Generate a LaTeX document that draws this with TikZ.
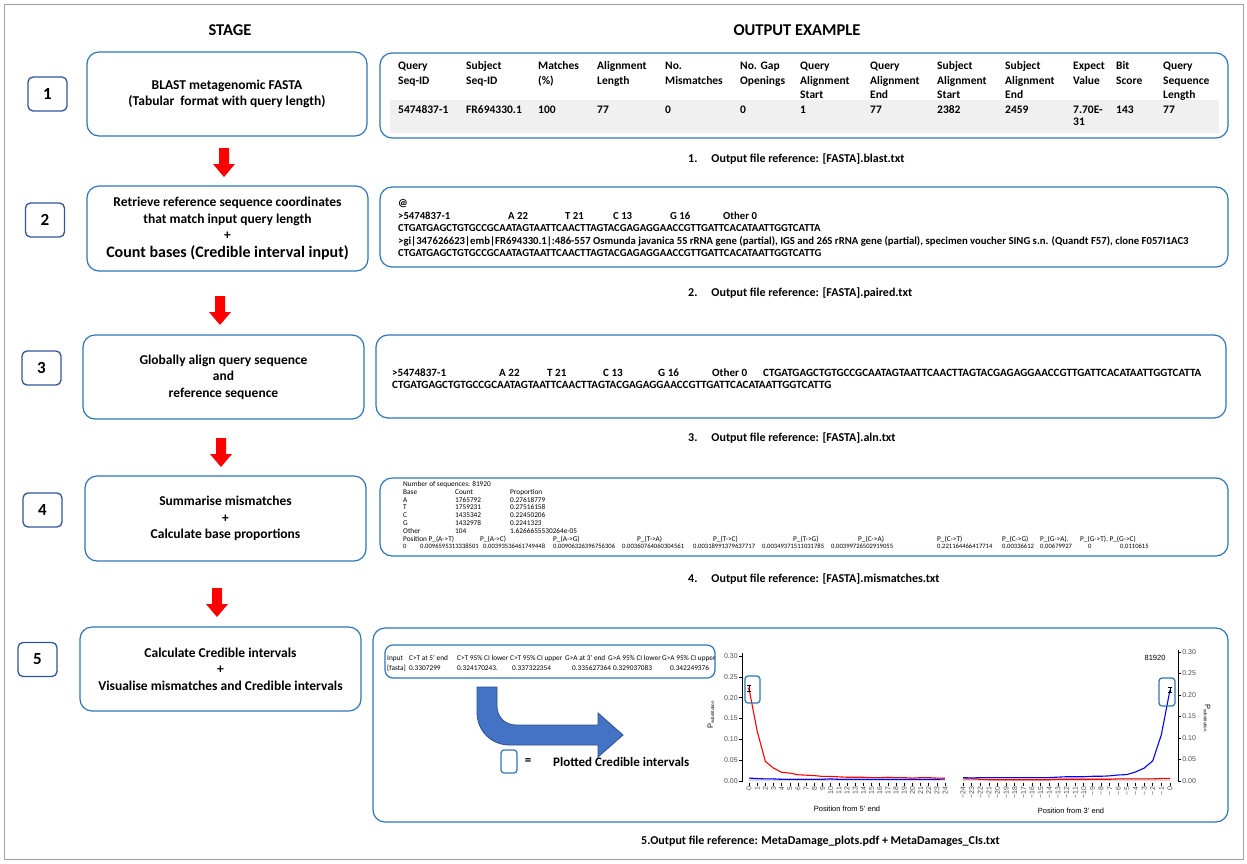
\documentclass[tikz,border=0pt]{standalone}
\usepackage{fontspec}
\setmainfont{Carlito}
\newfontfamily\plotfont{Liberation Sans}
\definecolor{boxblue}{HTML}{2E75B6}
\definecolor{numblue}{HTML}{2F5597}
\definecolor{arrowred}{HTML}{FF0000}
\definecolor{bigblue}{HTML}{4472C4}
\definecolor{bigblueedge}{HTML}{2F528F}
\definecolor{rowgray}{HTML}{F0F0F0}
\definecolor{framegray}{HTML}{A0A0A0}
\definecolor{ticktext}{HTML}{4D4D4D}
\newcommand{\fs}[2]{\fontsize{#1}{#2}\selectfont}
\newcommand{\cells}[1]{\begin{tabular}[t]{@{}l@{}}#1\end{tabular}}
\newcommand{\psub}{P\raisebox{-1.3pt}{\fs{4.5}{5}substitution}}
\begin{document}
\begin{tikzpicture}[x=1pt,y=-1pt,
  stagebox/.style={draw=boxblue, line width=1.2pt, rounded corners=12pt, inner sep=0pt, align=center, font=\bfseries\fs{13.5}{16.5}},
  numbox/.style={draw=numblue, line width=1.3pt, rounded corners=5pt, minimum width=39pt, minimum height=34pt, inner sep=0pt, font=\bfseries\fs{17}{20}},
  outbox/.style={draw=boxblue, line width=1.2pt, rounded corners=12pt, inner sep=0pt},
  header/.style={inner sep=0pt, font=\bfseries\fs{16.5}{20}},
  caption/.style={anchor=base west, inner sep=0pt, font=\bfseries\fs{12}{14}},
  tcell/.style={anchor=base west, inner sep=0pt, font=\bfseries\fs{11.5}{14.5}},
  seqtext/.style={anchor=base west, inner sep=0pt, font=\bfseries\fs{10.7}{12.5}},
  alntext/.style={anchor=base west, inner sep=0pt, font=\bfseries\fs{11.1}{12.5}},
  mmtext/.style={anchor=base west, inner sep=0pt, font=\fs{7.3}{7.8}},
  mmnum/.style={anchor=base west, inner sep=0pt, font=\fs{6.6}{7.8}},
  citext/.style={anchor=base west, inner sep=0pt, font=\fs{7.3}{8}},
  ticklab/.style={inner sep=1pt, text=ticktext, font=\plotfont\fs{7}{8}},
  axtitle/.style={inner sep=0pt, font=\plotfont\fs{7.5}{9}},
  hlbox/.style={draw=boxblue, line width=1.2pt, rounded corners=3pt, inner sep=0pt},
  redcurve/.style={draw=red, line width=1.1pt, line join=round},
  bluecurve/.style={draw=blue, line width=1.1pt, line join=round},
  redarrow/.pic={\fill[arrowred] (-5,0) -- (5,0) -- (5,16) -- (11,16) -- (0,29) -- (-11,16) -- (-5,16) -- cycle;}
]
\useasboundingbox (0,0) rectangle (1247,863);
\draw[framegray, line width=1pt] (4,4) rectangle (1243,859);

% headers
\node[header] (hstage) at (230,30) {STAGE};
\node[header] (hout) at (797,30) {OUTPUT EXAMPLE};

% stage boxes
\node[stagebox, minimum width=280pt, minimum height=84pt] (s1) at (227,94) {BLAST metagenomic FASTA\\(Tabular\ \ format with query length)};
\node[stagebox, minimum width=281pt, minimum height=85pt] (s2) at (227.5,228.5) {Retrieve reference sequence coordinates\\that match input query length\\+\\[1pt]{\fs{16}{19}Count bases (Credible interval input)}};
\node[stagebox, minimum width=281pt, minimum height=84pt] (s3) at (223.5,377) {Globally align query sequence\\and\\reference sequence};
\node[stagebox, minimum width=281pt, minimum height=85pt] (s4) at (225.5,518.5) {Summarise mismatches\\+\\Calculate base proportions};
\node[stagebox, minimum width=281pt, minimum height=84pt] (s5) at (220.5,669) {Calculate Credible intervals\\+\\Visualise mismatches and Credible intervals};

% number boxes
\node[numbox] (n1) at (47.5,94) {1};
\node[numbox] (n2) at (45,220) {2};
\node[numbox] (n3) at (41.5,368) {3};
\node[numbox] (n4) at (42.5,510) {4};
\node[numbox] (n5) at (37.5,659.5) {5};

% red arrows
\pic at (224,148) {redarrow};
\pic at (220,296) {redarrow};
\pic at (221,438) {redarrow};
\pic at (217,588) {redarrow};

% ---------- output 1 ----------
\node[outbox, minimum width=848pt, minimum height=85pt] (o1) at (804,95.5) {};
\fill[rowgray] (390,100) rectangle (1219,133);
\node[tcell] (h1) at (398,69.5) {\cells{Query\\Seq-ID}};
\node[tcell] (h2) at (466,69.5) {\cells{Subject\\Seq-ID}};
\node[tcell] (h3) at (538,69.5) {\cells{Matches\\(\%)}};
\node[tcell] (h4) at (597,69.5) {\cells{Alignment\\Length}};
\node[tcell] (h5) at (665,69.5) {\cells{No.\\Mismatches}};
\node[tcell] (h6) at (740,69.5) {\cells{No. Gap\\Openings}};
\node[tcell] (h7) at (800,69.5) {\cells{Query\\Alignment\\Start}};
\node[tcell] (h8) at (870,69.5) {\cells{Query\\Alignment\\End}};
\node[tcell] (h9) at (937,69.5) {\cells{Subject\\Alignment\\Start}};
\node[tcell] (h10) at (1005,69.5) {\cells{Subject\\Alignment\\End}};
\node[tcell] (h11) at (1073,69.5) {\cells{Expect\\Value}};
\node[tcell] (h12) at (1116,69.5) {\cells{Bit\\Score}};
\node[tcell] (h13) at (1163,69.5) {\cells{Query\\Sequence\\Length}};
\node[tcell] (d1) at (398,113.5) {5474837-1};
\node[tcell] (d2) at (466,113.5) {FR694330.1};
\node[tcell] (d3) at (538,113.5) {100};
\node[tcell] (d4) at (597,113.5) {77};
\node[tcell] (d5) at (665,113.5) {0};
\node[tcell] (d6) at (740,113.5) {0};
\node[tcell] (d7) at (800,113.5) {1};
\node[tcell] (d8) at (870,113.5) {77};
\node[tcell] (d9) at (937,113.5) {2382};
\node[tcell] (d10) at (1005,113.5) {2459};
\node[tcell] (d11) at (1073,113.5) {\cells{7.70E-\\[-2.5pt]31}};
\node[tcell] (d12) at (1116,113.5) {143};
\node[tcell] (d13) at (1163,113.5) {77};
\node[caption] (c1) at (688,162) {1.\hspace{14pt}Output file reference: [FASTA].blast.txt};

% ---------- output 2 ----------
\node[outbox, minimum width=848pt, minimum height=80pt] (o2) at (804,227) {};
\node[seqtext] (p1) at (398,206.5) {@};
\node[seqtext] (p2a) at (398,219.5) {>5474837-1};
\node[seqtext] (p2b) at (508,219.5) {A 22};
\node[seqtext] (p2c) at (565,219.5) {T 21};
\node[seqtext] (p2d) at (613,219.5) {C 13};
\node[seqtext] (p2e) at (670,219.5) {G 16};
\node[seqtext] (p2f) at (723,219.5) {Other 0};
\node[seqtext] (p3) at (398,231.5) {CTGATGAGCTGTGCCGCAATAGTAATTCAACTTAGTACGAGAGGAACCGTTGATTCACATAATTGGTCATTA};
\node[seqtext] (p4) at (398,244.5) {>gi|347626623|emb|FR694330.1|:486-557 Osmunda javanica 5S rRNA gene (partial), IGS and 26S rRNA gene (partial), specimen voucher SING s.n. (Quandt F57), clone F057I1AC3};
\node[seqtext] (p5) at (398,256.5) {CTGATGAGCTGTGCCGCAATAGTAATTCAACTTAGTACGAGAGGAACCGTTGATTCACATAATTGGTCATTG};
\node[caption] (c2) at (688,296) {2.\hspace{14pt}Output file reference: [FASTA].paired.txt};

% ---------- output 3 ----------
\node[outbox, minimum width=850pt, minimum height=83pt] (o3) at (801,376.5) {};
\node[alntext] (a1) at (392,376.5) {>5474837-1};
\node[alntext] (a2) at (499,376.5) {A 22};
\node[alntext] (a3) at (547,376.5) {T 21};
\node[alntext] (a4) at (603,376.5) {C 13};
\node[alntext] (a5) at (658,376.5) {G 16};
\node[alntext] (a6) at (712,376.5) {Other 0};
\node[alntext] (a7) at (763,376.5) {CTGATGAGCTGTGCCGCAATAGTAATTCAACTTAGTACGAGAGGAACCGTTGATTCACATAATTGGTCATTA};
\node[alntext] (a8) at (392,388) {CTGATGAGCTGTGCCGCAATAGTAATTCAACTTAGTACGAGAGGAACCGTTGATTCACATAATTGGTCATTG};
\node[caption] (c3) at (688,441) {3.\hspace{14pt}Output file reference: [FASTA].aln.txt};

% ---------- output 4 ----------
\node[outbox, minimum width=848pt, minimum height=78pt] (o4) at (804,517) {};
\node[mmtext] (m0) at (403,486.5) {Number of sequences: 81920};
\node[mmtext] (m1a) at (403,494.3) {Base};
\node[mmtext] (m1b) at (455,494.3) {Count};
\node[mmtext] (m1c) at (510,494.3) {Proportion};
\node[mmtext] (m2a) at (403,502.1) {A};
\node[mmtext] (m2b) at (455,502.1) {1765792};
\node[mmtext] (m2c) at (510,502.1) {0.27618779};
\node[mmtext] (m3a) at (403,509.9) {T};
\node[mmtext] (m3b) at (455,509.9) {1759231};
\node[mmtext] (m3c) at (510,509.9) {0.27516158};
\node[mmtext] (m4a) at (403,517.7) {C};
\node[mmtext] (m4b) at (455,517.7) {1435342};
\node[mmtext] (m4c) at (510,517.7) {0.22450206};
\node[mmtext] (m5a) at (403,525.5) {G};
\node[mmtext] (m5b) at (455,525.5) {1432978};
\node[mmtext] (m5c) at (510,525.5) {0.2241323};
\node[mmtext] (m6a) at (403,533.3) {Other};
\node[mmtext] (m6b) at (455,533.3) {104};
\node[mmtext] (m6c) at (510,533.3) {1.6266655530264e-05};
\node[mmtext] (q1) at (403,541.1) {Position P\_(A->T)};
\node[mmtext] (q2) at (480,541.1) {P\_(A->C)};
\node[mmtext] (q3) at (553,541.1) {P\_(A->G)};
\node[mmtext] (q4) at (637,541.1) {P\_(T->A)};
\node[mmtext] (q5) at (713,541.1) {P\_(T->C)};
\node[mmtext] (q6) at (793,541.1) {P\_(T->G)};
\node[mmtext] (q7) at (858,541.1) {P\_(C->A)};
\node[mmtext] (q8) at (937,541.1) {P\_(C->T)};
\node[mmtext] (q9) at (1002,541.1) {P\_(C->G)};
\node[mmtext] (q10) at (1040,541.1) {P\_(G->A).};
\node[mmtext] (q11) at (1080,541.1) {P\_(G->T). P\_(G->C)};
\node[mmnum] (r0) at (403,548.9) {0};
\node[mmnum] (r1) at (420,548.9) {0.0096595313338501};
\node[mmnum] (r2) at (483,548.9) {0.00393536461749448};
\node[mmnum] (r3) at (553,548.9) {0.00906326396756306};
\node[mmnum] (r4) at (622,548.9) {0.00360764060304561};
\node[mmnum] (r5) at (693,548.9) {0.00318991379637717};
\node[mmnum] (r6) at (762,548.9) {0.00349371511031785};
\node[mmnum] (r7) at (831,548.9) {0.00399726502919055};
\node[mmnum] (r8) at (937,548.9) {0.221164466417714};
\node[mmnum] (r9) at (1002,548.9) {0.00336612};
\node[mmnum] (r10) at (1040,548.9) {0.00679927};
\node[mmnum] (r11) at (1088,548.9) {0};
\node[mmnum] (r12) at (1120,548.9) {0.0110615};
\node[caption] (c4) at (688,582) {4.\hspace{14pt}Output file reference: [FASTA].mismatches.txt};

% ---------- output 5 ----------
\node[outbox, minimum width=855pt, minimum height=194pt] (o5) at (800.5,725) {};
\node[outbox, rounded corners=8pt, minimum width=330pt, minimum height=33pt] (ci) at (550,661.5) {};
\node[citext] (ci1) at (387,660) {Input};
\node[citext] (ci2) at (409,660) {C>T at 5’ end};
\node[citext] (ci3) at (457,660) {C>T 95\% CI lower};
\node[citext] (ci4) at (510,660) {C>T 95\% CI upper};
\node[citext] (ci5) at (565,660) {G>A at 3’ end};
\node[citext] (ci6) at (608,660) {G>A 95\% CI lower};
\node[citext] (ci7) at (662,660) {G>A 95\% CI upper};
\node[citext] (cv1) at (387,670) {[fasta]};
\node[citext] (cv2) at (409,670) {0.3307299};
\node[citext] (cv3) at (457,670) {0.324170243.};
\node[citext] (cv4) at (512,670) {0.337322354};
\node[citext] (cv5) at (572,670) {0.335627364};
\node[citext] (cv6) at (613,670) {0.329037083};
\node[citext] (cv7) at (670,670) {0.342249376};

% big blue bent arrow
\filldraw[fill=bigblue, draw=bigblueedge, line width=0.8pt] (477,687) -- (477,712) .. controls (477,731) and (491,745) .. (510,745) -- (598,745) -- (598,757) -- (623,735) -- (598,713) -- (598,725) -- (516,725) .. controls (505,725) and (497,717) .. (497,706) -- (497,687) -- cycle;

% legend
\node[hlbox, minimum width=16pt, minimum height=23pt] (leg) at (509,761.5) {};
\node[inner sep=0pt, font=\bfseries\fs{13}{15}] (eq) at (528,762) {=};
\node[anchor=west, inner sep=0pt, font=\bfseries\fs{13}{15}] (legtxt) at (553,762) {Plotted Credible intervals};

% ---------- left plot ----------
\coordinate (LP) at (749,781);
\begin{scope}[shift={(LP)}, x=8.17pt, y=416.7pt]
  \fill[gray!30] (0,0.001) rectangle (24,0.008);
  \draw[bluecurve] plot coordinates {(0,0.007) (1,0.006) (2,0.005) (3,0.005) (4,0.004) (5,0.004) (6,0.004) (7,0.004) (8,0.004) (9,0.004) (10,0.005) (11,0.004) (12,0.004) (13,0.004) (14,0.004) (15,0.004) (16,0.004) (17,0.004) (18,0.004) (19,0.004) (20,0.004) (21,0.004) (22,0.004) (23,0.004) (24,0.005)};
  \draw[redcurve] plot coordinates {(0,0.222) (1,0.12) (2,0.047) (3,0.031) (4,0.021) (5,0.019) (6,0.015) (7,0.014) (8,0.013) (9,0.011) (10,0.011) (11,0.010) (12,0.009) (13,0.009) (14,0.009) (15,0.008) (16,0.008) (17,0.009) (18,0.008) (19,0.008) (20,0.007) (21,0.008) (22,0.008) (23,0.007) (24,0.007)};
  \draw[line width=0.9pt] (-0.857,-0.002) -- (-0.857,0.307);
  \foreach \v/\l in {0/0.00,0.05/0.05,0.1/0.10,0.15/0.15,0.2/0.20,0.25/0.25,0.3/0.30}
    \draw[line width=0.6pt] (-0.857,\v) -- ++(-3pt,0) node[left, ticklab] {\l};
  \foreach \i in {0,...,24}
    \draw[line width=0.6pt] (\i,-0.004) -- ++(0,-3pt) node[rotate=90, anchor=east, ticklab] {\i};
  \draw[line width=0.8pt] (0,0.215) -- (0,0.229);
  \draw[line width=0.8pt] (0,0.229) ++(-2pt,0) -- ++(4pt,0);
  \draw[line width=0.8pt] (0,0.215) ++(-2pt,0) -- ++(4pt,0);
  \fill[red] (0,0.222) circle (1.4pt);
\end{scope}
\node[hlbox, minimum width=15pt, minimum height=27pt] (hl1) at (752.5,689.5) {};
\node[axtitle] (lx) at (847,809) {Position from 5’ end};
\node[axtitle, rotate=90] (ly) at (711,715) {\psub};

% ---------- right plot ----------
\coordinate (RP) at (1170,781);
\begin{scope}[shift={(RP)}, x=8.625pt, y=430pt]
  \fill[gray!30] (-24,0.001) rectangle (0,0.008);
  \draw[redcurve] plot coordinates {(-24,0.005) (-23,0.005) (-22,0.004) (-21,0.003) (-20,0.003) (-19,0.003) (-18,0.003) (-17,0.003) (-16,0.003) (-15,0.003) (-14,0.003) (-13,0.004) (-12,0.004) (-11,0.004) (-10,0.004) (-9,0.004) (-8,0.004) (-7,0.004) (-6,0.005) (-5,0.005) (-4,0.005) (-3,0.005) (-2,0.005) (-1,0.006) (0,0.006)};
  \draw[bluecurve] plot coordinates {(-24,0.008) (-23,0.007) (-22,0.008) (-21,0.008) (-20,0.008) (-19,0.008) (-18,0.008) (-17,0.008) (-16,0.008) (-15,0.008) (-14,0.008) (-13,0.009) (-12,0.010) (-11,0.010) (-10,0.010) (-9,0.011) (-8,0.011) (-7,0.012) (-6,0.014) (-5,0.015) (-4,0.021) (-3,0.030) (-2,0.047) (-1,0.108) (0,0.212)};
  \draw[line width=0.9pt] (0.9275,-0.002) -- (0.9275,0.305);
  \foreach \v/\l in {0/0.00,0.05/0.05,0.1/0.10,0.15/0.15,0.2/0.20,0.25/0.25,0.3/0.30}
    \draw[line width=0.6pt] (0.9275,\v) -- ++(3pt,0) node[right, ticklab] {\l};
  \foreach \j in {-24,...,0}{
    \pgfmathtruncatemacro\aj{abs(\j)}
    \draw[line width=0.6pt] (\j,-0.004) -- ++(0,-3pt) node[rotate=90, anchor=east, ticklab] {\ifnum\j<0 −\fi\aj};
  }
  \draw[line width=0.8pt] (0,0.206) -- (0,0.218);
  \draw[line width=0.8pt] (0,0.218) ++(-2pt,0) -- ++(4pt,0);
  \draw[line width=0.8pt] (0,0.206) ++(-2pt,0) -- ++(4pt,0);
\end{scope}
\node[hlbox, minimum width=16pt, minimum height=28pt] (hl2) at (1167,692) {};
\node[axtitle] (rnum) at (1155,658) {81920};
\node[axtitle] (rx) at (1071,811) {Position from 3’ end};
\node[axtitle, rotate=-90] (ry) at (1207,718) {\psub};

\node[caption] (c5) at (641,844) {5.Output file reference: MetaDamage\_plots.pdf + MetaDamages\_CIs.txt};
\end{tikzpicture}
\end{document}
